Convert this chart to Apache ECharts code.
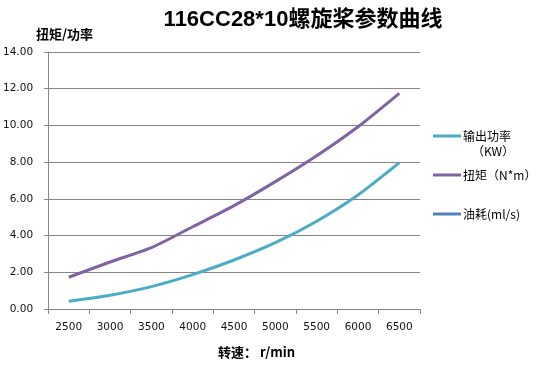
<!DOCTYPE html>
<html><head><meta charset="utf-8">
<script src="https://cdn.jsdelivr.net/npm/echarts@6/dist/echarts.min.js"></script>
<style>html,body{margin:0;padding:0;background:#fff}#c{width:554px;height:371px}</style>
</head><body><div id="c"></div>
<script>
const categories = ['2500','3000','3500','4000','4500','5000','5500','6000','6500'];
const powerKW = [0.42, 0.75, 1.22, 1.87, 2.67, 3.61, 4.78, 6.21, 7.97];
const torqueNm = [1.73, 2.56, 3.34, 4.48, 5.63, 6.94, 8.35, 9.93, 11.75];
const fuel = [];
const seriesNames = ['输出功率', '扭矩（N*m）', '油耗(ml/s)'];
const yTicks = {min: 0, max: 14, interval: 2};

const chart = echarts.init(document.getElementById('c'), null, {renderer: 'canvas'});
const axisGrey = '#868686';
chart.setOption({
  animation: false,
  title: {
    text: '116CC28*10螺旋桨参数曲线',
    left: 298, top: 4, textAlign: 'center',
    textStyle: {fontFamily: 'Liberation Sans, Noto Sans CJK SC', fontSize: 22, fontWeight: 'bold', color: '#000'}
  },
  grid: {left: 45, right: 134, top: 52, bottom: 62},
  legend: {
    orient: 'vertical', left: 428, top: 125,
    itemWidth: 28, itemHeight: 14, itemGap: 27,
    icon: 'path://M0,6 L28,6 L28,9 L0,9 Z',
    textStyle: {fontFamily: 'Noto Sans CJK SC', fontSize: 12, color: '#000', padding: [0,0,0,-3]},
    data: seriesNames
  },
  xAxis: {
    type: 'category', data: categories, boundaryGap: true,
    axisLine: {lineStyle: {color: axisGrey, width: 1}},
    axisTick: {show: true, length: 5, lineStyle: {color: axisGrey}},
    axisLabel: {margin: 13, fontFamily: 'DejaVu Sans', fontSize: 10.5, color: '#111'}
  },
  yAxis: {
    type: 'value', min: yTicks.min, max: yTicks.max, interval: yTicks.interval,
    axisLine: {show: true, lineStyle: {color: axisGrey}},
    axisTick: {show: true, length: 4, lineStyle: {color: axisGrey}},
    splitLine: {lineStyle: {color: axisGrey, width: 1}},
    axisLabel: {margin: 15, formatter: v => v.toFixed(2), fontFamily: 'DejaVu Sans', fontSize: 10.5, color: '#111'}
  },
  graphic: [
    {type: 'text', left: 36, top: 28, style: {text: '扭矩/功率', font: 'bold 13px "Noto Sans CJK SC"', fill: '#000'}},
    {type: 'text', left: 218, top: 346, style: {text: '转速： r/min', font: 'bold 13px "Noto Sans CJK SC"', fill: '#000'}},
    {type: 'text', left: 472, top: 145, style: {text: '（KW）', font: '12px "Noto Sans CJK SC"', fill: '#000'}}
  ],
  series: [
    {name: seriesNames[0], type: 'line', data: powerKW, smooth: 0.25, showSymbol: false,
     lineStyle: {width: 3, color: '#4bacc6'}, itemStyle: {color: '#4bacc6'}},
    {name: seriesNames[1], type: 'line', data: torqueNm, smooth: 0.25, showSymbol: false,
     lineStyle: {width: 3, color: '#8064a2'}, itemStyle: {color: '#8064a2'}},
    {name: seriesNames[2], type: 'line', data: fuel, showSymbol: false,
     lineStyle: {width: 3, color: '#4f81bd'}, itemStyle: {color: '#4f81bd'}}
  ]
});
</script></body></html>
